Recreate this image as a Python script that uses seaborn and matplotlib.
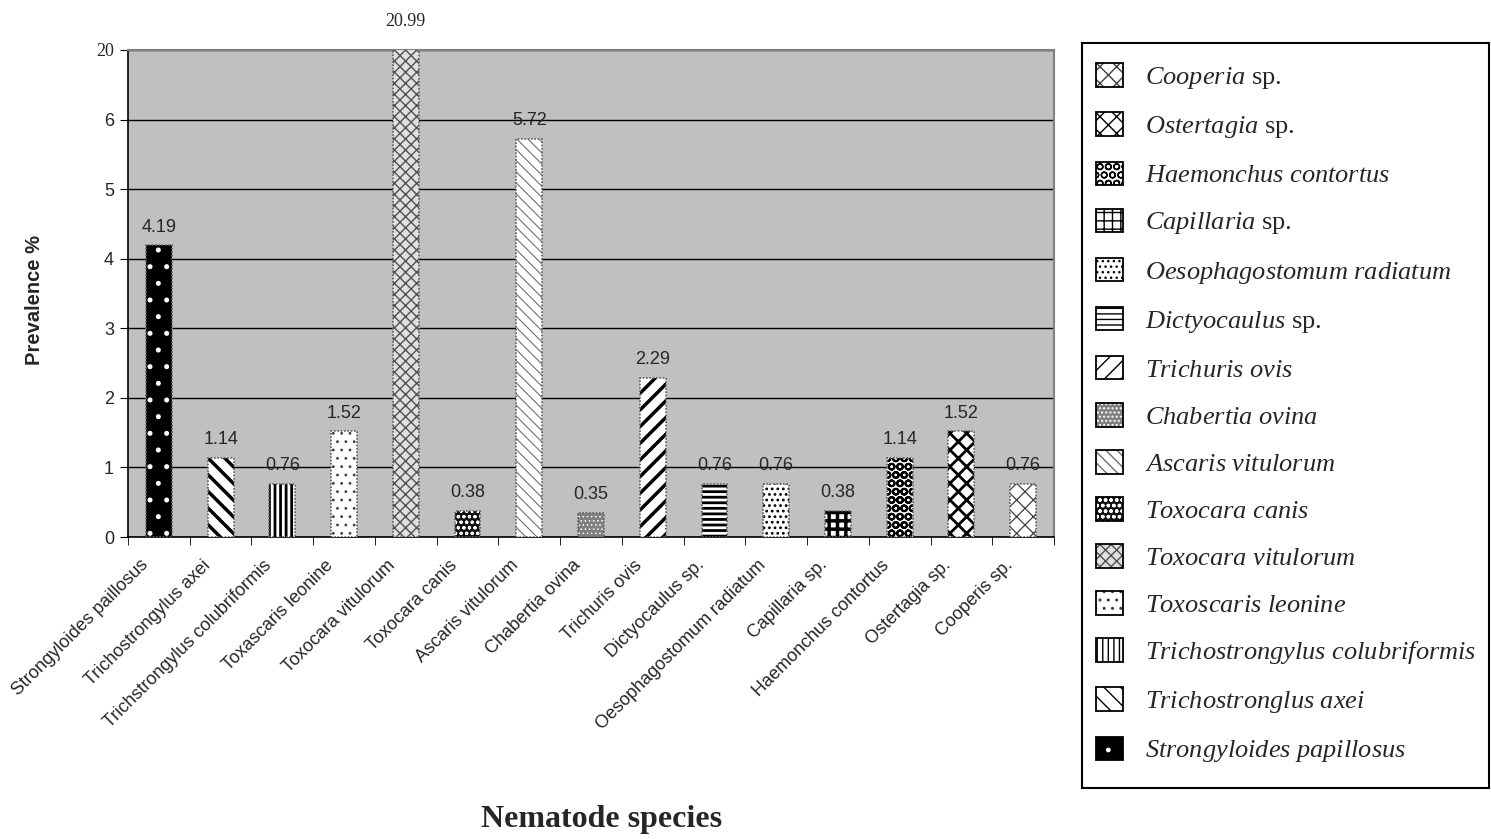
import numpy as np
import pandas as pd
import matplotlib
matplotlib.use('Agg')
import matplotlib.pyplot as plt
import matplotlib.transforms as mtransforms
import seaborn as sns
from matplotlib.patches import Patch, Rectangle
from matplotlib.legend_handler import HandlerTuple

sns.set_style('white')
plt.rcParams['font.family'] = ['Liberation Sans', 'DejaVu Sans']
plt.rcParams['mathtext.fontset'] = 'custom'
plt.rcParams['mathtext.it'] = 'Liberation Serif:italic'
plt.rcParams['mathtext.rm'] = 'Liberation Serif'
plt.rcParams['hatch.linewidth'] = 1.0

# Data
species = ["Strongyloides paillosus", "Trichostrongylus axei", "Trichstrongylus colubriformis",
           "Toxascaris leonine", "Toxocara vitulorum", "Toxocara canis", "Ascaris vitulorum",
           "Chabertia ovina", "Trichuris ovis", "Dictyocaulus sp.", "Oesophagostomum radiatum",
           "Capillaria sp.", "Haemonchus contortus", "Ostertagia sp.", "Cooperis sp."]
prevalence = [4.19, 1.14, 0.76, 1.52, 20.99, 0.38, 5.72, 0.35, 2.29, 0.76, 0.76, 0.38, 1.14, 1.52, 0.76]

# legend labels (top to bottom), genus italic, "sp." upright
legend_genus = ["Cooperia", "Ostertagia", "Haemonchus contortus", "Capillaria",
                "Oesophagostomum radiatum", "Dictyocaulus", "Trichuris ovis", "Chabertia ovina",
                "Ascaris vitulorum", "Toxocara canis", "Toxocara vitulorum", "Toxoscaris leonine",
                "Trichostrongylus colubriformis", "Trichostronglus axei", "Strongyloides papillosus"]
legend_sp = [True, True, False, True, False, True, False, False,
             False, False, False, False, False, False, False]

y_ticks = [0, 1, 2, 3, 4, 5, 6, 20]

# fill styles per bar: (face, hatch, hatch colour, hatch lw)
styles = [
    ('black', '.', 'white', 1.2),
    ('white', '\\\\', 'black', 2.5),
    ('white', '|||', 'black', 2.0),
    ('white', '..', '#404040', 0.8),
    ('#e0e0e0', 'xxx', '#505050', 1.0),
    ('#101010', 'ooo', 'white', 0.8),
    ('white', '\\\\\\', '#707070', 0.8),
    ('#808080', '....', 'white', 0.6),
    ('white', '//', 'black', 2.5),
    ('white', '---', 'black', 2.0),
    ('white', '...', 'black', 1.2),
    ('white', '++', 'black', 2.5),
    ('white', 'OO', 'black', 1.5),
    ('white', 'xx', 'black', 2.0),
    ('white', 'xx', '#404040', 0.9),
]

df = pd.DataFrame({'species': species, 'prevalence': prevalence})


def fwd(y):
    y = np.asarray(y, dtype=float)
    return np.where(y <= 6, y, 6 + (y - 6) / 14.0)


def inv(y):
    y = np.asarray(y, dtype=float)
    return np.where(y <= 6, y, 6 + (y - 6) * 14.0)


fig = plt.figure(figsize=(14.91, 8.39), dpi=100)
ax = fig.add_axes([128 / 1491, 1 - 537 / 839, (1054 - 128) / 1491, (537 - 50) / 839])
ax.set_yscale('function', functions=(fwd, inv))

sns.barplot(data=df, x='species', y='prevalence', color='white', width=0.42, ax=ax, zorder=3)

for p, (fc, h, hc, hlw) in zip(ax.patches, styles):
    p.set_facecolor(fc)
    p.set_hatch(h)
    p.set_edgecolor(hc)
    p.set_linewidth(0)
    if hasattr(p, 'set_hatch_linewidth'):
        p.set_hatch_linewidth(hlw)

# dotted grey outline on bars
ax.bar(np.arange(len(species)), prevalence, width=0.42, facecolor='none',
       edgecolor='#606060', linewidth=1.2, linestyle=(0, (1, 1)), zorder=4)

ax.set_facecolor('#c0c0c0')
ax.set_xlim(-0.5, len(species) - 0.5)
ax.set_ylim(0, 20)
ax.set_yticks(y_ticks)
ax.set_yticklabels([str(t) for t in y_ticks], fontsize=13)
ax.get_yticklabels()[-1].set_fontfamily('Liberation Serif')
ax.yaxis.grid(True, color='black', linewidth=1.0, zorder=0)
ax.set_axisbelow(True)

ax.set_xticks(np.arange(len(species)))
ax.set_xticklabels(species, rotation=45, ha='right', rotation_mode='anchor', fontsize=13)
ax.tick_params(axis='x', which='major', length=0, pad=12)
shift = mtransforms.ScaledTranslation(-0.19, -0.03, fig.dpi_scale_trans)
for lab in ax.get_xticklabels():
    lab.set_transform(lab.get_transform() + shift)
ax.set_xticks(np.arange(len(species) + 1) - 0.5, minor=True)
ax.tick_params(axis='x', which='minor', length=6, direction='out', color='black', bottom=True)
ax.tick_params(axis='y', length=6, direction='out', color='black', left=True, pad=4)
ax.set_xlabel('')
ax.set_ylabel('')

for side in ['left', 'bottom']:
    ax.spines[side].set_color('black')
    ax.spines[side].set_linewidth(1.2)
for side in ['top', 'right']:
    ax.spines[side].set_color('#808080')
    ax.spines[side].set_linewidth(1.5)

# value labels
for i, v in enumerate(prevalence):
    if v > 20:
        ax.annotate(f'{v:.2f}', (i, v), xytext=(0, 11), textcoords='offset points',
                    ha='center', va='bottom', fontsize=13, family='Liberation Serif',
                    annotation_clip=False)
    else:
        ax.annotate(f'{v:.2f}', (i, v), xytext=(0, 7), textcoords='offset points',
                    ha='center', va='bottom', fontsize=13)

fig.text(35 / 1491, 1 - 300 / 839, 'Prevalence %', rotation=90, ha='center', va='center',
         fontsize=14.5, fontweight='bold')
fig.text(602 / 1491, 1 - 820 / 839, 'Nematode species', ha='center', va='center',
         fontsize=23, fontweight='bold', family='Liberation Serif')

# legend: reversed order of bars
handles = []
labels = []
for k, (g, sp) in enumerate(zip(legend_genus, legend_sp)):
    fc, h, hc, hlw = styles[len(styles) - 1 - k]
    hp = Patch(facecolor=fc, hatch=h, edgecolor=hc, linewidth=0)
    if hasattr(hp, 'set_hatch_linewidth'):
        hp.set_hatch_linewidth(min(hlw, 1.5))
    outline = Patch(facecolor='none', edgecolor='black', linewidth=1.3)
    handles.append((hp, outline))
    name = '$\\mathit{' + g.replace(' ', '\\ ') + '}$'
    labels.append(name + ' sp.' if sp else name)

# legend frame drawn as a plain box
fig.patches.append(Rectangle((1082 / 1491, 1 - 788 / 839), 407 / 1491, 745 / 839,
                             transform=fig.transFigure, facecolor='white',
                             edgecolor='black', linewidth=1.5, zorder=0))

leg = fig.legend(handles, labels, loc='upper left',
                 bbox_to_anchor=(1076 / 1491, 1 - 43 / 839),
                 handler_map={tuple: HandlerTuple(ndivide=1, pad=0)},
                 frameon=False, prop={'family': 'Liberation Serif', 'size': 19},
                 handlelength=1.0, handleheight=1.0, handletextpad=0.85,
                 labelspacing=0.805, borderpad=0.77, borderaxespad=0)

fig.savefig('out.png', dpi=100)
